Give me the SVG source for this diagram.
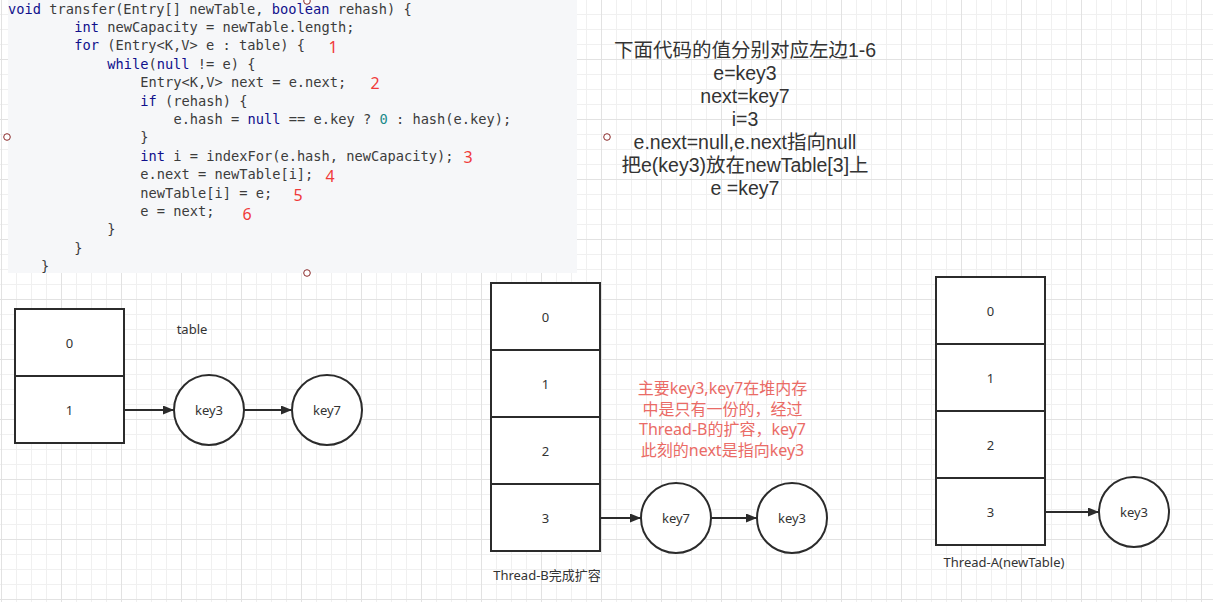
<svg xmlns="http://www.w3.org/2000/svg" width="1213" height="602" viewBox="0 0 1213 602">
<defs>
<pattern id="grid" x="1" y="-1" width="60" height="60" patternUnits="userSpaceOnUse">
<path d="M15.5,0V60M30.5,0V60M45.5,0V60M0,15.5H60M0,30.5H60M0,45.5H60" stroke="#f0f0f0" stroke-width="1" fill="none"/>
<path d="M0.5,0V60M0,0.5H60" stroke="#e2e2e2" stroke-width="1" fill="none"/>
</pattern>
<marker id="arr" markerUnits="userSpaceOnUse" markerWidth="12" markerHeight="10" refX="11" refY="4.5" orient="auto">
<path d="M0,0 L11,4.5 L0,9 Z" fill="#2b2b2b"/>
</marker>
</defs>
<style>
.code{font-family:"DejaVu Sans Mono","Liberation Mono",monospace;font-size:13.7px;fill:#3c3c3c;white-space:pre}
.kw{fill:#10108c}
.num{fill:#1a8a8a}
.rn{font-family:"Noto Sans","Liberation Sans",sans-serif;font-size:16px;fill:#f03a3a;text-anchor:middle}
.note{font-family:"Liberation Sans","Noto Sans CJK SC",sans-serif;font-size:19.5px;fill:#333;text-anchor:middle}
.red{font-family:"Noto Sans","Noto Sans CJK SC",sans-serif;font-size:16px;fill:#ea6b66;text-anchor:middle}
.lbl{font-family:"Noto Sans","Noto Sans CJK SC",sans-serif;font-size:13px;fill:#333;text-anchor:middle}
.box{fill:#fff;stroke:#2b2b2b;stroke-width:2}
.edge{stroke:#2b2b2b;stroke-width:2;fill:none;marker-end:url(#arr)}
.hdl{fill:#fff;stroke:#8b2a2a;stroke-width:1}
</style>
<rect width="1213" height="602" fill="#fff"/>
<rect width="1213" height="602" fill="url(#grid)"/>

<g id="code">
<rect x="8" y="0" width="569" height="273" fill="#f6f7f9"/>
<text class="code" x="8" y="13.5"><tspan class="kw">void</tspan> transfer(Entry[] newTable, <tspan class="kw">boolean</tspan> rehash) {</text>
<text class="code" x="74.2" y="31.9"><tspan class="kw">int</tspan> newCapacity = newTable.length;</text>
<text class="code" x="74.2" y="50.3"><tspan class="kw">for</tspan> (Entry&lt;K,V&gt; e : table) {</text>
<text class="code" x="107.2" y="68.7"><tspan class="kw">while</tspan>(<tspan class="kw">null</tspan> != e) {</text>
<text class="code" x="140.3" y="87.1">Entry&lt;K,V&gt; next = e.next;</text>
<text class="code" x="140.3" y="105.5"><tspan class="kw">if</tspan> (rehash) {</text>
<text class="code" x="173.4" y="123.9">e.hash = <tspan class="kw">null</tspan> == e.key ? <tspan class="num">0</tspan> : hash(e.key);</text>
<text class="code" x="140.3" y="142.3">}</text>
<text class="code" x="140.3" y="160.7"><tspan class="kw">int</tspan> i = indexFor(e.hash, newCapacity);</text>
<text class="code" x="140.3" y="179.1">e.next = newTable[i];</text>
<text class="code" x="140.3" y="197.5">newTable[i] = e;</text>
<text class="code" x="140.3" y="215.9">e = next;</text>
<text class="code" x="107.2" y="234.3">}</text>
<text class="code" x="74.2" y="252.7">}</text>
<text class="code" x="41.1" y="271.1">}</text>
<text class="rn" x="333" y="52.5">1</text>
<text class="rn" x="375" y="88.5">2</text>
<text class="rn" x="468" y="162.5">3</text>
<text class="rn" x="330" y="181.5">4</text>
<text class="rn" x="298" y="200.5">5</text>
<text class="rn" x="247" y="219.5">6</text>
<circle class="hdl" cx="7" cy="137" r="3.3"/>
<circle class="hdl" cx="607" cy="137" r="3.3"/>
<circle class="hdl" cx="307" cy="273" r="3.3"/>
<circle class="hdl" cx="307" cy="1" r="3.3"/>
</g>

<g id="note">
<text class="note" x="745" y="56.5"><tspan x="745" y="56.5">下面代码的值分别对应左边1-6</tspan><tspan x="745" y="79.5">e=key3</tspan><tspan x="745" y="102.5">next=key7</tspan><tspan x="745" y="125.5">i=3</tspan><tspan x="745" y="148.5">e.next=null,e.next指向null</tspan><tspan x="745" y="171.5">把e(key3)放在newTable[3]上</tspan><tspan x="745" y="194.5">e =key7</tspan></text>
</g>

<g id="table">
<rect class="box" x="15" y="309" width="109" height="67"/>
<text class="lbl" x="69.5" y="347.5">0</text>
<rect class="box" x="15" y="376" width="109" height="67"/>
<text class="lbl" x="69.5" y="414.5">1</text>
<text class="lbl" x="192" y="333.5">table</text>
</g>
<g id="t-key3">
<circle class="box" cx="209" cy="410" r="35"/>
<text class="lbl" x="209" y="414.5">key3</text>
</g>
<g id="t-key7">
<circle class="box" cx="327" cy="410" r="35"/>
<text class="lbl" x="327" y="414.5">key7</text>
</g>

<g id="threadB">
<rect class="box" x="491" y="283" width="109" height="67"/>
<text class="lbl" x="545.5" y="321.5">0</text>
<rect class="box" x="491" y="350" width="109" height="67"/>
<text class="lbl" x="545.5" y="388.5">1</text>
<rect class="box" x="491" y="417" width="109" height="67"/>
<text class="lbl" x="545.5" y="455.5">2</text>
<rect class="box" x="491" y="484" width="109" height="67"/>
<text class="lbl" x="545.5" y="522.5">3</text>
<text class="lbl" x="547" y="579.5">Thread-B完成扩容</text>
</g>
<g id="b-key7">
<circle class="box" cx="676" cy="518" r="35"/>
<text class="lbl" x="676" y="522.5">key7</text>
</g>
<g id="b-key3">
<circle class="box" cx="792" cy="518" r="35"/>
<text class="lbl" x="792" y="522.5">key3</text>
</g>
<g id="redNote">
<text class="red" x="722.5" y="394"><tspan x="722.5" y="394">主要key3,key7在堆内存</tspan><tspan x="722.5" y="414.6">中是只有一份的，经过</tspan><tspan x="722.5" y="435.2">Thread-B的扩容，key7</tspan><tspan x="722.5" y="455.8">此刻的next是指向key3</tspan></text>
</g>

<g id="threadA">
<rect class="box" x="936" y="277" width="109" height="67"/>
<text class="lbl" x="990.5" y="315.5">0</text>
<rect class="box" x="936" y="344" width="109" height="67"/>
<text class="lbl" x="990.5" y="382.5">1</text>
<rect class="box" x="936" y="411" width="109" height="67"/>
<text class="lbl" x="990.5" y="449.5">2</text>
<rect class="box" x="936" y="478" width="109" height="67"/>
<text class="lbl" x="990.5" y="516.5">3</text>
<text class="lbl" x="1004" y="566.5">Thread-A(newTable)</text>
</g>
<g id="a-key3">
<circle class="box" cx="1134" cy="512" r="35"/>
<text class="lbl" x="1134" y="516.5">key3</text>
</g>

<g id="connectors">
<line class="edge" x1="125" y1="410" x2="174" y2="410"/>
<line class="edge" x1="244" y1="410" x2="292" y2="410"/>
<line class="edge" x1="601" y1="518" x2="641" y2="518"/>
<line class="edge" x1="711" y1="518" x2="757" y2="518"/>
<line class="edge" x1="1046" y1="512" x2="1099" y2="512"/>
</g>
</svg>
